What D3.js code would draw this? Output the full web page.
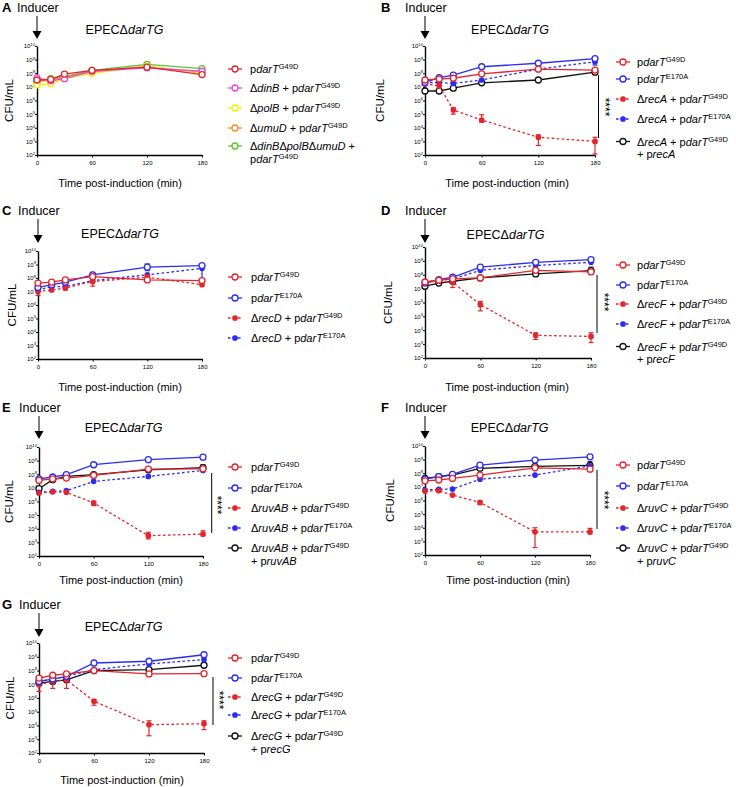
<!DOCTYPE html>
<html><head><meta charset="utf-8">
<script src="https://cdn.jsdelivr.net/npm/d3@7"></script>
<style>
body{margin:0;background:#fff}
svg{font-family:"Liberation Sans",Arial,Helvetica,sans-serif;white-space:pre}
</style>
</head><body>
<svg id="c" width="736" height="787"></svg>
<script>
// ---------- data ----------
const times = [0, 15, 30, 60, 120, 180];
const xTickValues = [0, 60, 120, 180];
const yTickValues = [1e2, 1e3, 1e4, 1e5, 1e6, 1e7, 1e8, 1e9, 1e10];

// Panel A
const aG49D   = [3.2e7, 3.5e7, 8.5e7, 1.6e8, 2.8e8, 8e7];
const aDinB   = [4.5e7, 2.8e7, 4e7, 1.4e8, 2.5e8, 1.4e8];
const aPolB   = [1.4e7, 1.7e7, 4e7, 1.0e8, 3.2e8, 1.0e8];
const aUmuD   = [2.5e7, 3.2e7, 5e7, 1.3e8, 3.2e8, 1.1e8];
const aTriple = [2.5e7, 4e7, 5.6e7, 1.6e8, 4.5e8, 2.2e8];

// Panel B
const bG49D      = [3.2e7, 3.8e7, 4.3e7, 9e7, 2e8, 1.7e8];
const bE170A     = [2.1e7, 4.8e7, 7.4e7, 3e8, 5.4e8, 1.2e9];
const bRecAG49D  = [1.6e7, 1.2e7, 2e5, 3.7e4, 2e3, 1e3];
const bRecAE170A = [2.1e7, 2.1e7, 1.8e7, 3.2e7, 2e8, 7e8];
const bRecAComp  = [5e6, 5e6, 8e6, 2e7, 3.2e7, 1.2e8];
const bRecAG49DErr  = [[15, 8e6, 1.6e7], [30, 1e5, 3e5], [60, 2.5e4, 9e4], [120, 5e2, 3e3], [180, 1.2e2, 2e3]];
const bRecAE170AErr = [[180, 4e8, 1.2e9]];
const bE170AErr     = [[180, 9e8, 1.5e9]];

// Panel C
const cG49D      = [4.2e7, 4.9e7, 7.2e7, 1.26e8, 7.2e7, 6.5e7];
const cE170A     = [2e7, 3.1e7, 4.9e7, 1.7e8, 6.3e8, 8.3e8];
const cRecDG49D  = [1e7, 1.3e7, 1.8e7, 5.5e7, 1.15e8, 3.2e7];
const cRecDE170A = [1.3e7, 2.3e7, 2.3e7, 6.5e7, 1.7e8, 5.2e8];
const cE170AErr    = [[60, 1.2e8, 2.6e8], [120, 3.5e8, 1.1e9], [180, 8e7, 9e8]];
const cRecDG49DErr = [[0, 5e6, 1.6e7], [30, 1.3e7, 2.2e7], [60, 2.5e7, 1e8], [120, 6e7, 1.8e8]];

// Panel D
const dG49D      = [3e7, 4e7, 5e7, 5.9e7, 2.1e8, 1.6e8];
const dE170A     = [2.5e7, 4.5e7, 6.6e7, 3.5e8, 7.9e8, 1.23e9];
const dRecFG49D  = [3e7, 3.4e7, 2.9e7, 7e5, 4.3e3, 3.6e3];
const dRecFE170A = [2.9e7, 4e7, 5e7, 2.1e8, 4.6e8, 7.9e8];
const dRecFComp  = [1.5e7, 2.5e7, 3.4e7, 5.9e7, 1.15e8, 2e8];
const dRecFG49DErr = [[30, 1.2e7, 5e7], [60, 2.5e5, 1.2e6], [120, 2.2e3, 6.5e3], [180, 1.3e3, 6.5e3]];
const dRecFCompErr = [[180, 2e8, 3.5e8]];

// Panel E
const eG49D       = [3.5e7, 4.5e7, 5.2e7, 8.3e7, 2.4e8, 2.5e8];
const eE170A      = [4.5e7, 6.3e7, 9.3e7, 5e8, 1.17e9, 1.8e9];
const eRuvABG49D  = [4.2e6, 5.2e6, 4.7e6, 7.8e5, 3.1e3, 4.1e3];
const eRuvABE170A = [4.7e6, 5.5e6, 6.2e6, 3e7, 6.9e7, 1.9e8];
const eRuvABComp  = [8.7e6, 4e7, 6.9e7, 9.3e7, 2.1e8, 3.1e8];
const eRuvABG49DErr = [[60, 5e5, 1e6], [120, 1.8e3, 5.5e3], [180, 3e3, 7e3]];
const eRuvABCompErr = [[180, 2.5e8, 5e8]];

// Panel F
const fG49D      = [2.8e7, 3.2e7, 4.2e7, 7.4e7, 2.5e8, 2e8];
const fE170A     = [3.7e7, 5.6e7, 8.3e7, 4e8, 9.3e8, 1.6e9];
const fRuvCG49D  = [4.9e6, 5.2e6, 2.5e6, 7.2e5, 5e3, 5e3];
const fRuvCE170A = [5.9e6, 6.6e6, 6.9e6, 3.7e7, 7.4e7, 3.5e8];
const fRuvCComp  = [4.2e7, 5.6e7, 7.4e7, 2.3e8, 3.2e8, 3.8e8];
const fRuvCG49DErr = [[60, 5e5, 9e5], [120, 3.5e2, 1e4], [180, 3.5e3, 9e3]];
const fRuvCCompErr = [[180, 3.8e8, 7e8]];

// Panel G
const gG49D      = [2.8e7, 4.5e7, 5.6e7, 9.8e7, 5.6e7, 5.9e7];
const gE170A     = [1.6e7, 2.4e7, 3.8e7, 3.5e8, 4.7e8, 1.4e9];
const gRecGG49D  = [9.3e6, 1.6e7, 2.1e7, 5.8e5, 1.15e4, 1.35e4];
const gRecGE170A = [1.6e7, 2.4e7, 3.8e7, 1.15e8, 3e8, 6.2e8];
const gRecGComp  = [1.2e7, 1.6e7, 2.1e7, 9.8e7, 1.15e8, 2.4e8];
const gRecGG49DErr = [[0, 3e6, 2e7], [15, 5e6, 3e7], [30, 5e6, 6e7], [60, 3e5, 8e5], [120, 1.8e3, 2.2e4], [180, 5e3, 2.2e4]];

// ---------- styles ----------
const RED = "#e3262b", BLUE = "#2b2bf5", BLACK = "#111111";
const MAGENTA = "#e648e6", YELLOW = "#f2f200", ORANGE = "#f08c2a", GREEN = "#5cc232";

const svg = d3.select("#c");

function rich(sel, str, size, supSize, supShift) {
  const parts = str.split(/(<i>.*?<\/i>|<sup>.*?<\/sup>)/).filter(s => s.length);
  let shifted = false;
  parts.forEach(s => {
    const t = sel.append("tspan");
    let txt = s, italic = false, sup = false;
    if (s.startsWith("<i>")) { txt = s.slice(3, -4); italic = true; }
    else if (s.startsWith("<sup>")) { txt = s.slice(5, -6); sup = true; }
    t.text(txt);
    if (italic) t.attr("font-style", "italic");
    if (sup) { t.attr("font-size", supSize).attr("dy", -supShift); shifted = true; }
    else if (shifted) { t.attr("dy", supShift); shifted = false; }
  });
}

function drawPanel(p) {
  const g = svg.append("g");
  const x = d3.scaleLinear().domain([0, 180]).range([p.x0, p.x1]);
  const y = d3.scaleLog().domain([1e2, 1e10]).range([p.yb, p.yt]);

  // letter + inducer + arrow
  g.append("text").attr("x", p.lx).attr("y", p.ly).attr("font-weight", "bold")
    .attr("font-size", 13).text(p.letter);
  g.append("text").attr("x", p.x0 - 20).attr("y", p.ly).attr("font-size", 12.5).text("Inducer");
  g.append("line").attr("x1", p.x0).attr("x2", p.x0).attr("y1", p.ly + 4).attr("y2", p.arrowTip - 6)
    .attr("stroke", "#000").attr("stroke-width", 1);
  g.append("path").attr("d", `M${p.x0 - 4.5},${p.arrowTip - 8} L${p.x0 + 4.5},${p.arrowTip - 8} L${p.x0},${p.arrowTip} Z`)
    .attr("fill", "#000");

  // title
  const tt = g.append("text").attr("x", p.titleX).attr("y", p.titleY).attr("text-anchor", "middle").attr("font-size", 12.5);
  rich(tt, "EPECΔ<i>darTG</i>", 12.5, 8, 4);

  // axes
  const xa = g.append("g").attr("transform", `translate(0,${p.yb})`)
    .call(d3.axisBottom(x).tickValues(xTickValues).tickSize(2.5).tickSizeOuter(0).tickPadding(3));
  xa.selectAll("text").attr("font-size", 6).attr("fill", "#000");
  const ya = g.append("g").attr("transform", `translate(${p.x0},0)`)
    .call(d3.axisLeft(y).tickValues(yTickValues).tickSize(2).tickSizeOuter(0).tickPadding(1.5).tickFormat(""));
  ya.selectAll(".tick").each(function (d) {
    const t = d3.select(this).select("text");
    t.attr("font-size", 6).attr("fill", "#000").attr("x", -2).attr("dy", "0.32em").text(null);
    rich(t, "10<sup>" + Math.round(Math.log10(d)) + "</sup>", 6, 4.2, 2.5);
  });
  [xa, ya].forEach(a => {
    a.select(".domain").attr("stroke", "#000").attr("stroke-width", 1.4);
    a.selectAll(".tick line").attr("stroke", "#000").attr("stroke-width", 1);
  });

  // axis titles
  g.append("text").attr("x", p.xtX).attr("y", p.xtY).attr("text-anchor", "middle")
    .attr("font-size", 11).text("Time post-induction (min)");
  g.append("text").attr("transform", `translate(${p.ytX},${(p.yt + p.yb) / 2}) rotate(-90)`)
    .attr("text-anchor", "middle").attr("dy", "0.35em").attr("font-size", 11.5).text("CFU/mL");

  // series (draw last legend item first so first item sits on top)
  const line = d3.line().x((d, i) => x(times[i])).y(d => y(d));
  p.series.slice().reverse().forEach(s => {
    const sg = g.append("g");
    sg.append("path").attr("d", line(s.values)).attr("fill", "none").attr("stroke", s.color)
      .attr("stroke-width", 1.3).attr("stroke-dasharray", s.dashed ? "2.6,2.4" : null);
    (s.err || []).forEach(e => {
      const ex = x(e[0]), y1 = y(e[1]), y2 = y(e[2]);
      sg.append("line").attr("x1", ex).attr("x2", ex).attr("y1", y1).attr("y2", y2).attr("stroke", s.color).attr("stroke-width", 1.2);
      [y1, y2].forEach(yy => sg.append("line").attr("x1", ex - 2.5).attr("x2", ex + 2.5).attr("y1", yy).attr("y2", yy)
        .attr("stroke", s.color).attr("stroke-width", 1.2));
    });
    sg.selectAll("circle").data(s.values).join("circle")
      .attr("cx", (d, i) => x(times[i])).attr("cy", d => y(d))
      .attr("r", s.filled ? 2.2 : 3)
      .attr("fill", s.filled ? s.color : "#fff").attr("stroke", s.color).attr("stroke-width", 1.3);
  });

  // legend
  p.series.forEach((s, i) => {
    const ry = p.rows[i];
    g.append("line").attr("x1", p.mx - 7).attr("x2", p.mx + 7).attr("y1", ry).attr("y2", ry)
      .attr("stroke", s.color).attr("stroke-width", 1.3).attr("stroke-dasharray", s.dashed ? "2.6,2.4" : null);
    g.append("circle").attr("cx", p.mx).attr("cy", ry).attr("r", s.filled ? 2.2 : 3)
      .attr("fill", s.filled ? s.color : "#fff").attr("stroke", s.color).attr("stroke-width", 1.3);
    s.label.split("\n").forEach((ln, k) => {
      const t = g.append("text").attr("x", p.tx).attr("y", ry + 4 + k * 12.5).attr("font-size", 11);
      rich(t, ln, 11, 7.5, 4);
    });
  });

  // significance
  if (p.sig) {
    g.append("line").attr("x1", p.sig.x).attr("x2", p.sig.x).attr("y1", p.sig.y1).attr("y2", p.sig.y2)
      .attr("stroke", "#000").attr("stroke-width", 1);
    g.append("text").attr("transform", `translate(${p.sig.sx - 5},${p.sig.sy}) rotate(90)`)
      .attr("text-anchor", "middle").attr("font-size", 12).text("****");
  }
}

const G49D = "p<i>darT</i><sup>G49D</sup>";
const E170A = "p<i>darT</i><sup>E170A</sup>";

const panels = [
  { letter: "A", lx: 2, ly: 12, x0: 37, x1: 202, yt: 46, yb: 155, arrowTip: 39, titleX: 124.5, titleY: 34,
    xtX: 120, xtY: 187, ytX: 9, mx: 235, tx: 250, rows: [69, 88, 108, 128, 146], sig: null,
    series: [
      { label: G49D, color: RED, values: aG49D },
      { label: "Δ<i>dinB</i> + " + G49D, color: MAGENTA, values: aDinB },
      { label: "Δ<i>polB</i> + " + G49D, color: YELLOW, values: aPolB },
      { label: "Δ<i>umuD</i> + " + G49D, color: ORANGE, values: aUmuD },
      { label: "Δ<i>dinB</i>Δ<i>polB</i>Δ<i>umuD</i> +\n" + G49D, color: GREEN, values: aTriple }
    ] },
  { letter: "B", lx: 381, ly: 12, x0: 425, x1: 595, yt: 46, yb: 155, arrowTip: 39, titleX: 510, titleY: 34,
    xtX: 507, xtY: 187, ytX: 380, mx: 623, tx: 637, rows: [62, 79, 99, 119, 141.5],
    sig: { x: 598.5, y1: 75, y2: 138, sx: 606, sy: 107 },
    series: [
      { label: G49D, color: RED, values: bG49D },
      { label: E170A, color: BLUE, values: bE170A, err: bE170AErr },
      { label: "Δ<i>recA</i> + " + G49D, color: RED, filled: true, dashed: true, values: bRecAG49D, err: bRecAG49DErr },
      { label: "Δ<i>recA</i> + " + E170A, color: BLUE, filled: true, dashed: true, values: bRecAE170A, err: bRecAE170AErr },
      { label: "Δ<i>recA</i> + " + G49D + "\n+ p<i>recA</i>", color: BLACK, values: bRecAComp }
    ] },
  { letter: "C", lx: 2, ly: 215, x0: 38, x1: 202, yt: 251, yb: 359, arrowTip: 243, titleX: 120, titleY: 238,
    xtX: 120, xtY: 391, ytX: 12, mx: 235, tx: 251, rows: [277, 298, 318, 338], sig: null,
    series: [
      { label: G49D, color: RED, values: cG49D },
      { label: E170A, color: BLUE, values: cE170A, err: cE170AErr },
      { label: "Δ<i>recD</i> + " + G49D, color: RED, filled: true, dashed: true, values: cRecDG49D, err: cRecDG49DErr },
      { label: "Δ<i>recD</i> + " + E170A, color: BLUE, filled: true, dashed: true, values: cRecDE170A }
    ] },
  { letter: "D", lx: 381, ly: 215, x0: 425, x1: 591, yt: 247, yb: 358, arrowTip: 243, titleX: 505.5, titleY: 239,
    xtX: 507, xtY: 391, ytX: 388, mx: 623, tx: 637, rows: [265, 285, 304, 324, 346.5],
    sig: { x: 597, y1: 275, y2: 333, sx: 605, sy: 302 },
    series: [
      { label: G49D, color: RED, values: dG49D },
      { label: E170A, color: BLUE, values: dE170A },
      { label: "Δ<i>recF</i> + " + G49D, color: RED, filled: true, dashed: true, values: dRecFG49D, err: dRecFG49DErr },
      { label: "Δ<i>recF</i> + " + E170A, color: BLUE, filled: true, dashed: true, values: dRecFE170A },
      { label: "Δ<i>recF</i> + " + G49D + "\n+ p<i>recF</i>", color: BLACK, values: dRecFComp, err: dRecFCompErr }
    ] },
  { letter: "E", lx: 2, ly: 412, x0: 39, x1: 203, yt: 447, yb: 556, arrowTip: 439, titleX: 123.7, titleY: 432,
    xtX: 121, xtY: 584, ytX: 9, mx: 235, tx: 251, rows: [467, 488, 508, 528, 548],
    sig: { x: 211.7, y1: 473, y2: 533, sx: 218, sy: 505 },
    series: [
      { label: G49D, color: RED, values: eG49D },
      { label: E170A, color: BLUE, values: eE170A },
      { label: "Δ<i>ruvAB</i> + " + G49D, color: RED, filled: true, dashed: true, values: eRuvABG49D, err: eRuvABG49DErr },
      { label: "Δ<i>ruvAB</i> + " + E170A, color: BLUE, filled: true, dashed: true, values: eRuvABE170A },
      { label: "Δ<i>ruvAB</i> + " + G49D + "\n+ p<i>ruvAB</i>", color: BLACK, values: eRuvABComp, err: eRuvABCompErr }
    ] },
  { letter: "F", lx: 381, ly: 412, x0: 425, x1: 590, yt: 446, yb: 555, arrowTip: 439, titleX: 509.7, titleY: 432,
    xtX: 508, xtY: 584, ytX: 390, mx: 623, tx: 637, rows: [465, 486, 508, 528, 548],
    sig: { x: 597, y1: 470, y2: 529, sx: 605, sy: 500 },
    series: [
      { label: G49D, color: RED, values: fG49D },
      { label: E170A, color: BLUE, values: fE170A },
      { label: "Δ<i>ruvC</i> + " + G49D, color: RED, filled: true, dashed: true, values: fRuvCG49D, err: fRuvCG49DErr },
      { label: "Δ<i>ruvC</i> + " + E170A, color: BLUE, filled: true, dashed: true, values: fRuvCE170A },
      { label: "Δ<i>ruvC</i> + " + G49D + "\n+ p<i>ruvC</i>", color: BLACK, values: fRuvCComp, err: fRuvCCompErr }
    ] },
  { letter: "G", lx: 2, ly: 609, x0: 39, x1: 204, yt: 643, yb: 753, arrowTip: 637, titleX: 123.7, titleY: 631,
    xtX: 122, xtY: 784, ytX: 10, mx: 235, tx: 251, rows: [658, 678, 697, 715, 736],
    sig: { x: 213, y1: 677, y2: 725, sx: 220, sy: 700 },
    series: [
      { label: G49D, color: RED, values: gG49D },
      { label: E170A, color: BLUE, values: gE170A },
      { label: "Δ<i>recG</i> + " + G49D, color: RED, filled: true, dashed: true, values: gRecGG49D, err: gRecGG49DErr },
      { label: "Δ<i>recG</i> + " + E170A, color: BLUE, filled: true, dashed: true, values: gRecGE170A },
      { label: "Δ<i>recG</i> + " + G49D + "\n+ p<i>recG</i>", color: BLACK, values: gRecGComp }
    ] }
];

panels.forEach(drawPanel);
</script>
</body></html>
